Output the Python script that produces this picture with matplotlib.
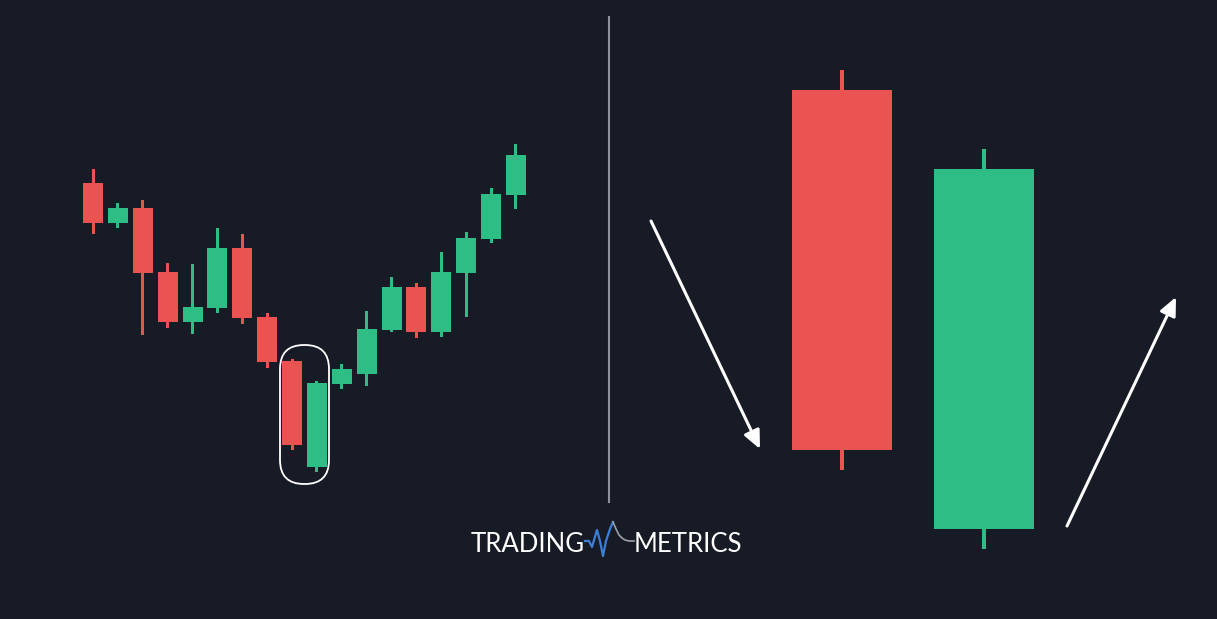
import matplotlib.pyplot as plt
from matplotlib.patches import Rectangle, FancyBboxPatch

# candlestick data (price units)
opens  = [436, 396, 411, 347, 297, 311, 371, 302, 258, 152, 235, 245, 289, 332, 287, 346, 380, 424]
closes = [396, 411, 346, 297, 312, 371, 301, 257, 174, 236, 250, 290, 332, 287, 347, 381, 425, 464]
highs  = [450, 416, 419, 356, 355, 391, 385, 306, 260, 238, 255, 308, 342, 336, 367, 387, 431, 475]
lows   = [385, 391, 284, 291, 285, 306, 295, 251, 169, 147, 230, 233, 287, 281, 282, 302, 376, 410]

# the two enlarged candles on the right
big_open = [529, 90]
big_close = [169, 450]
big_high = [549, 470]
big_low = [149, 70]

# logo wave (x, y)
wave_blue_x = [585, 589, 592, 597, 600, 603, 606, 610, 613]
wave_blue_y = [78, 78, 72, 89, 78, 63, 78, 90, 97]
wave_gray_x = [613, 616, 619, 622, 625, 629, 634]
wave_gray_y = [97, 90, 84, 81, 79, 78, 78]

BG = '#171b26'
RED = '#eb5252'
GREEN = '#2ebd85'

fig = plt.figure(figsize=(12.17, 6.19), dpi=100, facecolor=BG)
ax = fig.add_axes([0, 0, 1, 1])
ax.set_facecolor(BG)
ax.set_xlim(0, 1217)
ax.set_ylim(0, 619)
ax.axis('off')


def candle(x, o, c, h, l, w, ww):
    col = GREEN if c > o else RED
    ax.add_patch(Rectangle((x - ww / 2, l), ww, h - l, color=col, lw=0))
    ax.add_patch(Rectangle((x - w / 2, min(o, c)), w, abs(c - o), color=col, lw=0))


for i in range(len(opens)):
    candle(93 + 24.88 * i, opens[i], closes[i], highs[i], lows[i], 20, 3)

# highlight around the engulfing pair
ax.add_patch(FancyBboxPatch((280, 135), 49, 139,
                            boxstyle='round,pad=0,rounding_size=24',
                            fill=False, ec='white', lw=1.3))

# separator
ax.plot([608.5, 608.5], [117, 602], color='#8e929b', lw=1.5)

for i in range(2):
    candle(842 + 142 * i, big_open[i], big_close[i], big_high[i], big_low[i], 100, 4)

# arrows
ax.annotate('', xy=(760, 170), xytext=(651, 398),
            arrowprops=dict(arrowstyle='-|>,head_length=1.1,head_width=0.5',
                            color='white', lw=2.2, shrinkA=0, shrinkB=0))
ax.annotate('', xy=(1176, 322), xytext=(1067, 93),
            arrowprops=dict(arrowstyle='-|>,head_length=1.1,head_width=0.5',
                            color='white', lw=2.2, shrinkA=0, shrinkB=0))

# logo
ax.text(585, 75, 'TRADING', color='white', fontsize=18.5, family=['Lato', 'DejaVu Sans'],
        fontweight='normal', ha='right', va='center')
ax.text(634, 75, 'METRICS', color='white', fontsize=18.5, family=['Lato', 'DejaVu Sans'],
        fontweight='normal', ha='left', va='center')
ax.plot(wave_blue_x, wave_blue_y, color='#3d7fd6', lw=1.6)
ax.plot(wave_gray_x, wave_gray_y, color='#9aa0aa', lw=1.2)

fig.savefig('out.png', dpi=100, facecolor=BG)
